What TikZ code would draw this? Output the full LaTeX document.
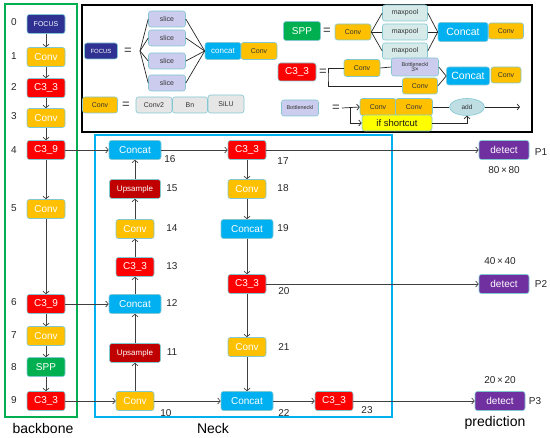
\documentclass[tikz,border=0pt]{standalone}
\usepackage{fontspec}
\setmainfont{Liberation Sans}
\usetikzlibrary{shapes,arrows.meta,positioning}

\definecolor{boxedge}{RGB}{130,200,210}
\definecolor{focusblue}{RGB}{46,49,146}
\definecolor{convyellow}{RGB}{255,192,0}
\definecolor{c3red}{RGB}{255,0,0}
\definecolor{concatblue}{RGB}{0,176,240}
\definecolor{upred}{RGB}{192,0,0}
\definecolor{sppgreen}{RGB}{0,176,80}
\definecolor{detectpurple}{RGB}{112,48,160}
\definecolor{slicelav}{RGB}{204,204,238}
\definecolor{lightgray}{RGB}{230,230,230}
\definecolor{mpteal}{RGB}{214,234,234}
\definecolor{addteal}{RGB}{190,222,228}
\definecolor{shortyellow}{RGB}{255,255,0}
\definecolor{linegray}{RGB}{64,64,64}

\begin{document}
\begin{tikzpicture}[
    x=1pt, y=-1pt,
    >={Straight Barb[length=2.5pt,width=6pt]},
    box/.style={draw=boxedge, rounded corners=2.5pt, inner sep=0pt, line width=0.6pt,
        minimum width=38, minimum height=19, text=white, font=\fontsize{10}{12}\selectfont},
    conv/.style={box, fill=convyellow},
    c3/.style={box, fill=c3red},
    concatbox/.style={box, fill=concatblue, minimum width=52},
    upbox/.style={box, fill=upred, minimum width=51, font=\fontsize{8}{10}\selectfont},
    focusbox/.style={box, fill=focusblue, font=\fontsize{7}{9}\selectfont},
    sppbox/.style={box, fill=sppgreen},
    detectbox/.style={box, fill=detectpurple, minimum width=50},
    idx/.style={font=\fontsize{10}{12}\selectfont, text=black!85},
    title/.style={font=\fontsize{14}{16}\selectfont},
    link/.style={draw=linegray, line width=0.7pt, ->},
    % inset styles
    small/.style={box, minimum height=16, text=black!80, font=\fontsize{7}{9}\selectfont},
    inconv/.style={small, fill=convyellow, minimum width=36},
    slicebox/.style={small, fill=slicelav, minimum width=37},
    graybox/.style={small, fill=lightgray, minimum width=36},
    mpbox/.style={small, fill=mpteal, minimum width=45},
    bnbox/.style={small, fill=slicelav, minimum width=37, font=\fontsize{5.5}{6}\selectfont},
    bigcat/.style={box, fill=concatblue, minimum width=50, font=\fontsize{10.5}{12}\selectfont},
    eqsign/.style={font=\fontsize{13}{14}\selectfont, text=black!80},
    thin/.style={draw=black!85, line width=0.7pt}
]

\useasboundingbox (0,0) rectangle (550,438);

% Frames
\draw [sppgreen, line width=2pt] (5,4) rectangle (77,417);
\draw [concatblue, line width=2pt] (95,135) rectangle (392,417);
\draw [black, line width=2.5pt] (82,5) rectangle (532,132);

\node (bbtitle) at (43,428) [title] {backbone};
\node (necktitle) at (213,428) [title] {Neck};
\node (predtitle) at (495,423) [title] {prediction};

% Backbone
\node (b0) at (46,24) [focusbox] {FOCUS};
\node (b1) at (46,57) [conv] {Conv};
\node (b2) at (46,88) [c3] {C3\_3};
\node (b3) at (46,118) [conv] {Conv};
\node (b4) at (46,150) [c3] {C3\_9};
\node (b5) at (46,209) [conv] {Conv};
\node (b6) at (46,304) [c3] {C3\_9};
\node (b7) at (46,336) [conv] {Conv};
\node (b8) at (46,367) [sppbox] {SPP};
\node (b9) at (46,401) [c3] {C3\_3};

\node (i0) at (14,22) [idx] {0};
\node (i1) at (14,56) [idx] {1};
\node (i2) at (14,87) [idx] {2};
\node (i3) at (14,116) [idx] {3};
\node (i4) at (14,150) [idx] {4};
\node (i5) at (14,208) [idx] {5};
\node (i6) at (14,302) [idx] {6};
\node (i7) at (14,335) [idx] {7};
\node (i8) at (14,367) [idx] {8};
\node (i9) at (14,400) [idx] {9};

\draw [link] (b0) -- (b1);
\draw [link] (b1) -- (b2);
\draw [link] (b2) -- (b3);
\draw [link] (b3) -- (b4);
\draw [link] (b4) -- (b5);
\draw [link] (b5) -- (b6);
\draw [link] (b6) -- (b7);
\draw [link] (b7) -- (b8);
\draw [link] (b8) -- (b9);

% Neck, left column
\node (n10) at (135,401) [conv] {Conv};
\node (n11) at (135,353) [upbox] {Upsample};
\node (n12) at (135,304) [concatbox] {Concat};
\node (n13) at (135,267) [c3] {C3\_3};
\node (n14) at (135,229) [conv] {Conv};
\node (n15) at (135,189) [upbox] {Upsample};
\node (n16) at (135,150) [concatbox] {Concat};

% Neck, right column
\node (n17) at (247,150) [c3] {C3\_3};
\node (n18) at (247,189) [conv] {Conv};
\node (n19) at (247,229) [concatbox] {Concat};
\node (n20) at (247,284) [c3] {C3\_3};
\node (n21) at (247,347) [conv] {Conv};
\node (n22) at (247,401) [concatbox] {Concat};
\node (n23) at (334,401) [c3] {C3\_3};

\node (l10) at (166,413) [idx] {10};
\node (l11) at (172,352) [idx] {11};
\node (l12) at (172,303) [idx] {12};
\node (l13) at (172,266) [idx] {13};
\node (l14) at (172,228) [idx] {14};
\node (l15) at (172,188) [idx] {15};
\node (l16) at (170,159) [idx] {16};
\node (l17) at (283,161) [idx] {17};
\node (l18) at (283,188) [idx] {18};
\node (l19) at (283,228) [idx] {19};
\node (l20) at (284,291) [idx] {20};
\node (l21) at (284,347) [idx] {21};
\node (l22) at (284,413) [idx] {22};
\node (l23) at (367,410) [idx] {23};

% Prediction heads
\node (d1) at (504,150) [detectbox] {detect};
\node (d2) at (504,284) [detectbox] {detect};
\node (d3) at (500,401) [detectbox] {detect};
\node (p1) at (541,152) [idx] {P1};
\node (p2) at (541,284) [idx] {P2};
\node (p3) at (535,401) [idx] {P3};
\node (s1) at (504,170) [idx] {80\,×\,80};
\node (s2) at (500,261) [idx] {40\,×\,40};
\node (s3) at (500,380) [idx] {20\,×\,20};

% Connections
\draw [link] (b4) -- (n16);
\draw [link] (b6) -- (n12);
\draw [link] (b9) -- (n10);
\draw [link] (n10) -- (n11);
\draw [link] (n11) -- (n12);
\draw [link] (n12) -- (n13);
\draw [link] (n13) -- (n14);
\draw [link] (n14) -- (n15);
\draw [link] (n15) -- (n16);
\draw [link] (n16) -- (n17);
\draw [link] (n17) -- (n18);
\draw [link] (n18) -- (n19);
\draw [link] (n19) -- (n20);
\draw [link] (n20) -- (n21);
\draw [link] (n21) -- (n22);
\draw [link] (n10) -- (n22);
\draw [link] (n22) -- (n23);
\draw [link] (n17) -- (d1);
\draw [link] (n20) -- (d2);
\draw [link] (n23) -- (d3);

% Inset: FOCUS
\node (ifocus) at (101,51) [focusbox, minimum width=33, minimum height=16, font=\fontsize{6}{7}\selectfont] {FOCUS};
\node (eq1) at (128,51) [eqsign] {=};
\coordinate (fsplit) at (140,51);
\node (sl1) at (167,19) [slicebox] {slice};
\node (sl2) at (167,38) [slicebox] {slice};
\node (sl3) at (167,61) [slicebox] {slice};
\node (sl4) at (167,83) [slicebox] {slice};
\node (icat) at (223,51) [box, fill=concatblue, minimum width=36, minimum height=17, font=\fontsize{8}{9}\selectfont] {concat};
\node (iconv1) at (259,51) [inconv, minimum height=17] {Conv};
\draw [thin] (fsplit) -- (sl1.west);
\draw [thin] (fsplit) -- (sl2.west);
\draw [thin] (fsplit) -- (sl3.west);
\draw [thin] (fsplit) -- (sl4.west);
\draw [thin] (sl1.east) -- (icat.west);
\draw [thin] (sl2.east) -- (icat.west);
\draw [thin] (sl3.east) -- (icat.west);
\draw [thin] (sl4.east) -- (icat.west);

% Inset: Conv
\node (iconv2) at (100,105) [inconv, minimum width=35] {Conv};
\node (eq2) at (126,105) [eqsign] {=};
\node (cv2) at (154,105) [graybox] {Conv2};
\node (ibn) at (190,105) [graybox, minimum width=35] {Bn};
\node (isilu) at (226,104) [graybox, minimum height=18] {SiLU};

% Inset: SPP
\node (ispp) at (302,31) [sppbox, minimum width=37] {SPP};
\node (eq3) at (327,31) [eqsign] {=};
\node (sconv) at (353,32) [inconv] {Conv};
\node (mp1) at (405,13) [mpbox] {maxpool};
\node (mp2) at (405,32) [mpbox] {maxpool};
\node (mp3) at (405,51) [mpbox] {maxpool};
\node (scat) at (463,32) [bigcat] {Concat};
\node (sconv2) at (506,31) [inconv, minimum width=35] {Conv};
\draw [thin] (sconv.east) -- (mp1.west);
\draw [thin] (sconv.east) -- (mp2.west);
\draw [thin] (sconv.east) -- (mp3.west);
\draw [thin] (mp1.east) -- (scat.west);
\draw [thin] (mp2.east) -- (scat.west);
\draw [thin] (mp3.east) -- (scat.west);

% Inset: C3_3
\node (ic3) at (297,72) [c3, minimum height=18] {C3\_3};
\node (eq4) at (323,72) [eqsign] {=};
\coordinate (cfork) at (328,77);
\node (cc1) at (362,68) [inconv, minimum height=17] {Conv};
\node (bneck3) at (415,67) [bnbox, minimum width=47, minimum height=18, align=center] {Bottleneckl\\[-1pt]{\fontsize{6.5}{7}\selectfont 3×}};
\node (cc2) at (420,86) [inconv, minimum width=35] {Conv};
\node (ccat) at (468,76) [bigcat, minimum width=43, minimum height=18] {Concat};
\node (cc3) at (506,75) [inconv, minimum width=30] {Conv};
\draw [thin] (cc1.west) -| (cfork) |- (cc2.west);
\draw [thin] (cc1.east) -- (bneck3.west);
\draw [thin] (bneck3.east) -- (ccat.west);
\draw [thin] (cc2.east) -- (ccat.west);

% Inset: Bottleneck
\node (ibneck) at (300,108) [bnbox] {Bottleneckl};
\node (eq5) at (336,108) [eqsign] {=};
\coordinate (bstart) at (342,108);
\coordinate (bfork) at (350,108);
\node (bc1) at (378,107) [inconv, minimum height=17] {Conv};
\node (bc2) at (414,107) [inconv, minimum width=37, minimum height=17] {Conv};
\node (iadd) at (467,107) [ellipse, draw=boxedge, fill=addteal, line width=0.6pt, inner sep=0pt, minimum width=35, minimum height=17, font=\fontsize{6.5}{7}\selectfont, text=black!80] {add};
\coordinate (bend) at (520,107);
\node (ifs) at (397,123) [box, fill=shortyellow, minimum width=70, minimum height=16, text=black!90, font=\fontsize{9.5}{11}\selectfont] {if shortcut};
\draw [thin, ->] (bstart) -- (bc1.west);
\draw [thin, ->] (bfork) |- (ifs.west);
\draw [thin] (bc2.east) -- (iadd.west);
\draw [thin, ->] (iadd.east) -- (bend);
\draw [thin, ->] (ifs.east) -| (iadd.south);

\end{tikzpicture}
\end{document}
